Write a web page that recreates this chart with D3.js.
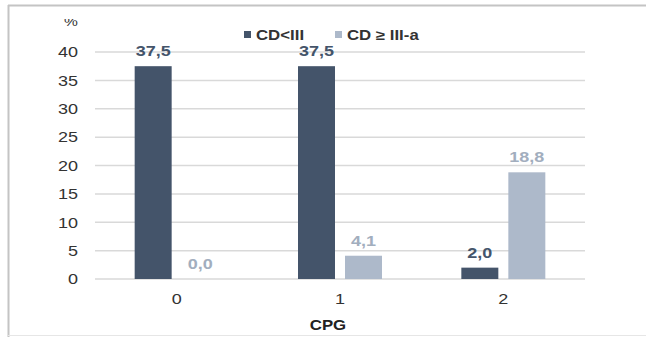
<!DOCTYPE html>
<html>
<head>
<meta charset="utf-8">
<script src="https://cdn.jsdelivr.net/npm/d3@7"></script>
<style>
  html, body { margin: 0; padding: 0; background: #fff; }
  svg { display: block; }
  text { font-family: "Liberation Sans", Arial, sans-serif; }
</style>
</head>
<body>
<svg id="chart" width="646" height="337"></svg>
<script>
// Chart data
const categories = ["0", "1", "2"];
const seriesNames = ["CD<III", "CD ≥ III-a"];
const seriesLow = [37.5, 37.5, 2.0];     // CD<III
const seriesHigh = [0.0, 4.1, 18.8];     // CD ≥ III-a
const yTicks = [0, 5, 10, 15, 20, 25, 30, 35, 40];
const xTitle = "CPG";
const yUnit = "%";

const colors = ["#44546A", "#ADB9CA"];
const labelColors = ["#44546A", "#A2AEBE"];
const textColor = "#333";
const sx = 1.2; // horizontal text stretch

const svg = d3.select("#chart");
const W = 646, H = 337;
const margin = { left: 95, right: 61, top: 52, bottom: 58 };

// frame
svg.append("line").attr("x1", 8).attr("x2", W).attr("y1", 5.5).attr("y2", 5.5)
  .attr("stroke", "#c4c4c4").attr("stroke-width", 2);
svg.append("line").attr("x1", 8.5).attr("x2", 8.5).attr("y1", 5).attr("y2", H)
  .attr("stroke", "#c4c4c4").attr("stroke-width", 2);
svg.append("line").attr("x1", 8).attr("x2", W).attr("y1", 335.5).attr("y2", 335.5)
  .attr("stroke", "#e6e6e6").attr("stroke-width", 1);

const x0 = d3.scaleBand().domain(categories).range([margin.left, W - margin.right]);
const x1 = d3.scaleBand().domain(seriesNames).range([0, x0.bandwidth()])
  .paddingInner(0.213).paddingOuter(0.844);
const y = d3.scaleLinear().domain([0, 40]).range([H - margin.bottom, margin.top]);

function stretchedText(g, x, yy) {
  return g.append("text").attr("transform", `translate(${x},${yy}) scale(${sx},1)`);
}

// gridlines
svg.append("g").selectAll("line").data(yTicks).join("line")
  .attr("x1", margin.left).attr("x2", W - margin.right)
  .attr("y1", d => y(d)).attr("y2", d => y(d))
  .attr("stroke", "#d9d9d9").attr("stroke-width", 1.5);

// y tick labels
const yl = svg.append("g");
yTicks.forEach(t => {
  stretchedText(yl, 78, y(t) + 5.3).text(t)
    .attr("text-anchor", "end").attr("font-size", 15).attr("fill", textColor);
});

// unit label (top partly hidden)
svg.append("clipPath").attr("id", "unitClip").append("rect")
  .attr("x", 50).attr("y", 19).attr("width", 40).attr("height", 20);
stretchedText(svg.append("g").attr("clip-path", "url(#unitClip)"), 71, 26)
  .text(yUnit).attr("text-anchor", "middle").attr("font-size", 13).attr("fill", textColor);

// bars
const rows = categories.map((c, i) => ({ cat: c, vals: [seriesLow[i], seriesHigh[i]] }));
const groups = svg.append("g").selectAll("g").data(rows).join("g")
  .attr("transform", d => `translate(${x0(d.cat)},0)`);

groups.selectAll("rect").data(d => d.vals.map((v, j) => ({ v, j }))).join("rect")
  .attr("x", d => x1(seriesNames[d.j]))
  .attr("width", x1.bandwidth())
  .attr("y", d => y(d.v))
  .attr("height", d => y(0) - y(d.v))
  .attr("fill", d => colors[d.j]);

// value labels
groups.each(function (d) {
  const g = d3.select(this);
  d.vals.forEach((v, j) => {
    stretchedText(g, x1(seriesNames[j]) + x1.bandwidth() / 2, y(v) - 10)
      .text(v.toFixed(1).replace(".", ","))
      .attr("text-anchor", "middle").attr("font-size", 15).attr("font-weight", "bold")
      .attr("fill", labelColors[j]);
  });
});

// category labels
const xl = svg.append("g");
categories.forEach(c => {
  stretchedText(xl, x0(c) + x0.bandwidth() / 2, 303.5).text(c)
    .attr("text-anchor", "middle").attr("font-size", 15).attr("fill", textColor);
});

// axis title
stretchedText(svg, 328, 330).text(xTitle)
  .attr("text-anchor", "middle").attr("font-size", 14).attr("font-weight", "bold")
  .attr("fill", "#222");

// legend
const legendX = [244, 335];
const leg = svg.append("g");
seriesNames.forEach((s, j) => {
  leg.append("rect").attr("x", legendX[j]).attr("y", 31).attr("width", 7).attr("height", 7)
    .attr("fill", colors[j]);
  stretchedText(leg, legendX[j] + 12, 39.5).text(s)
    .attr("font-size", 14).attr("font-weight", "bold").attr("fill", textColor);
});
</script>
</body>
</html>
